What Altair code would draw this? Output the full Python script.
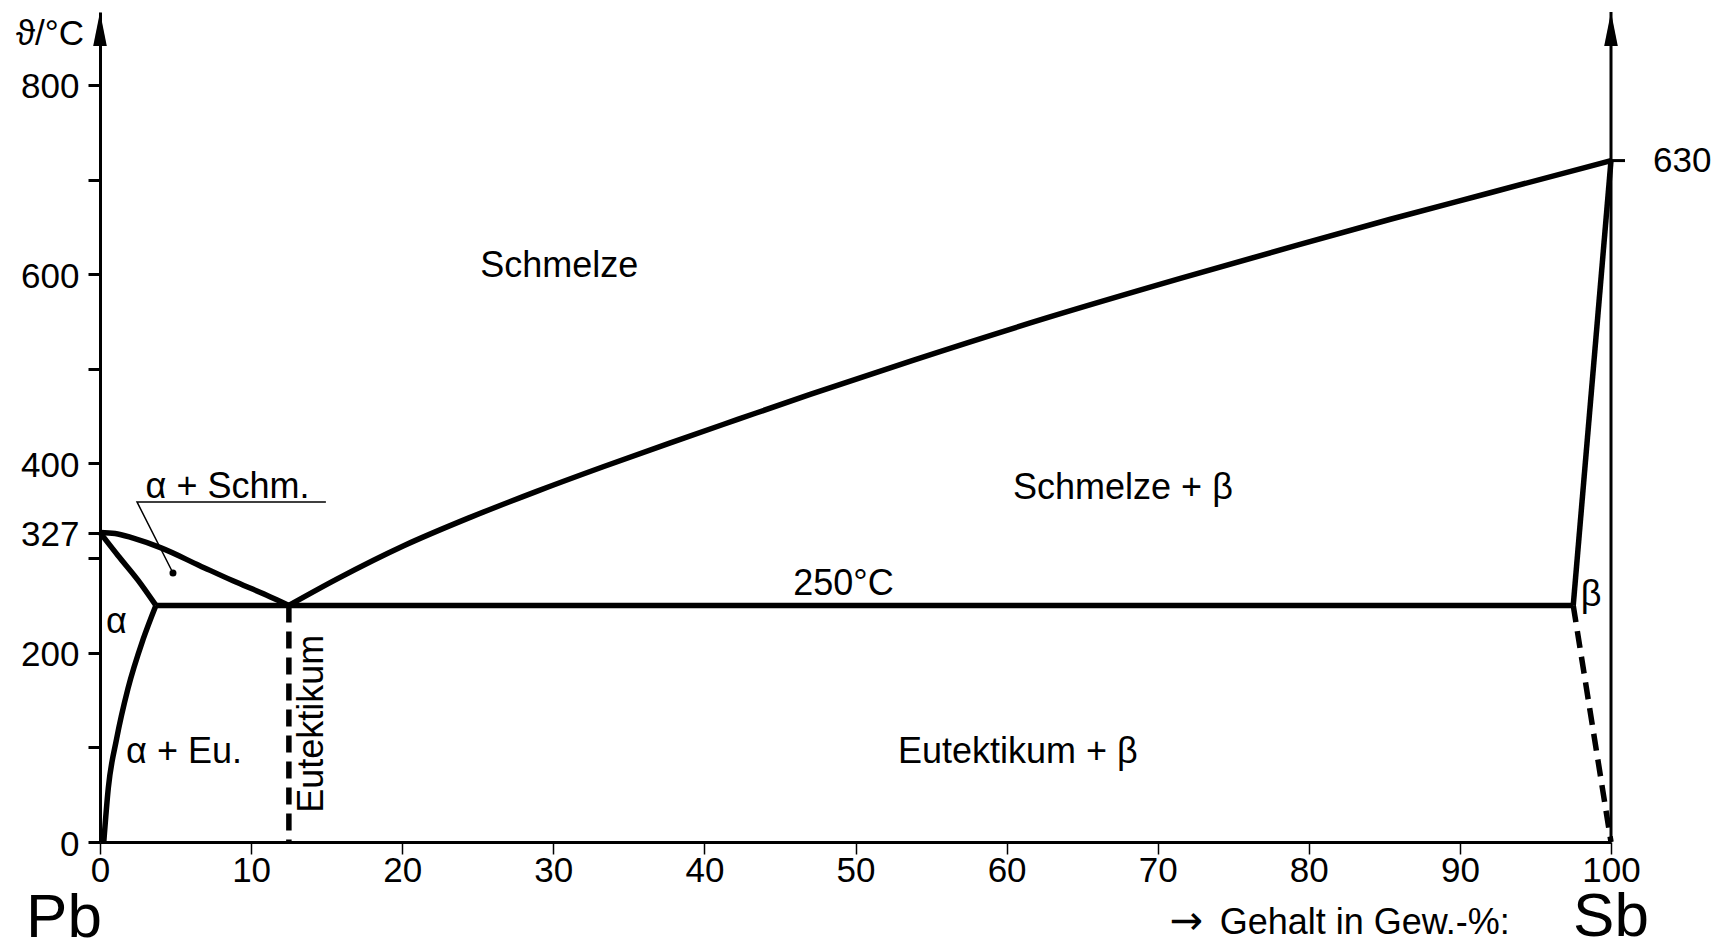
import altair as alt
import pandas as pd

FONT = "Liberation Sans, Arial, Helvetica, sans-serif"

# ---------------- axes ----------------
x_ticks = list(range(0, 101, 10))
y_ticks = [0, 100, 200, 300, 327, 400, 500, 600, 700, 800]
y_labeled = [0, 200, 327, 400, 600, 800]
y_top = 877  # top of the arrowed axes (drawn scale)

# ---------------- phase boundaries (x = % Sb, y = drawn temperature) ----------------
liq_pb_x = [0, 1.0, 2.2, 4.0, 6.6, 8.8, 11.0, 12.5]
liq_pb_y = [327, 326, 321, 311, 292, 276, 261, 250]
sol_pb_x = [0, 1.2, 2.5, 3.7]
sol_pb_y = [327, 302.5, 277, 250]
solv_pb_x = [0.25, 0.55, 1.1, 1.85, 2.85, 3.7]
solv_pb_y = [0, 57, 109, 162, 214, 250]
liq_sb_x = [12.5, 15.7, 20.1, 24.5, 28.9, 33.3, 37.7, 42.2, 47.0, 53.8, 62.7, 71.5, 79.3, 85.4, 92.0, 100]
liq_sb_y = [250, 278, 313, 343, 370.5, 396.5, 421.5, 446.5, 473, 509, 554, 595.5, 631, 658, 686, 720]
eut_line_x = [3.7, 97.5]
eut_T = 250
eut_comp = 12.5
sol_sb_x = [97.5, 100]
sol_sb_y = [250, 720]
solv_sb_x = [97.5, 100]
solv_sb_y = [250, 0]
sb_melt_drawn = 720
sb_melt_label = "630"

# ---------------- annotation positions (data units) ----------------
region_text = ["Schmelze", "Schmelze + β", "250°C", "α", "α + Eu.", "Eutektikum + β", "β", "α + Schm."]
region_x = [30.4, 67.7, 49.2, 1.09, 5.56, 60.75, 98.68, 8.44]
region_y = [597, 362, 261, 221, 83, 83, 249, 364]

eutk_text = ["Eutektikum"]
eutk_x = [14.76]
eutk_y = [125]

leader_x = [14.95, 2.45, 4.83]
leader_y = [359.3, 359.3, 284.2]

unit_text = ["ϑ/°C"]
unit_x = [-3.31]
unit_y = [842]

elem_text = ["Pb", "Sb"]
elem_x = [-2.38, 100]
elem_y = [-100, -99.5]

arrow_text = ["→"]
arrow_x = [71.9]
gehalt_text = ["Gehalt in Gew.-%:"]
gehalt_x = [74.1]
gehalt_y = [-97]

melt_label_x = [102.78]
melt_label_y = [708]

# ---------------- build tables ----------------
rows = []
for name, xs_, ys_ in [("liq_pb", liq_pb_x, liq_pb_y), ("sol_pb", sol_pb_x, sol_pb_y),
                       ("solv_pb", solv_pb_x, solv_pb_y), ("liq_sb", liq_sb_x, liq_sb_y),
                       ("eut", eut_line_x, [eut_T, eut_T]), ("sol_sb", sol_sb_x, sol_sb_y)]:
    for i, (a, b) in enumerate(zip(xs_, ys_)):
        rows.append({"x": a, "y": b, "curve": name, "o": i})
solid_df = pd.DataFrame(rows)

drows = []
for name, xs_, ys_ in [("eut_v", [eut_comp, eut_comp], [eut_T, 0]), ("solv_sb", solv_sb_x, solv_sb_y)]:
    for i, (a, b) in enumerate(zip(xs_, ys_)):
        drows.append({"x": a, "y": b, "curve": name, "o": i})
dash_df = pd.DataFrame(drows)

xs = alt.Scale(domain=[0, 100], nice=False, zero=False)
ys = alt.Scale(domain=[0, y_top], nice=False, zero=False)

x_axis = alt.Axis(values=x_ticks, tickSize=12, tickWidth=1.5, tickColor="black",
                  domainColor="black", domainWidth=3, labelFontSize=35, labelFont=FONT,
                  labelColor="black", labelPadding=-1, grid=False, title=None,
                  labelFlush=False, labelOverlap=False, format="d")
y_axis = alt.Axis(values=y_ticks, tickSize=12, tickWidth=3, tickColor="black",
                  domainColor="black", domainWidth=3, labelFontSize=35, labelFont=FONT,
                  labelColor="black", labelPadding=9, grid=False, title=None,
                  labelFlush=False, labelOverlap=False, format="d", labelOffset=2,
                  labelExpr="indexof(" + str(y_labeled) + ", datum.value) >= 0 ? datum.label : ''")

solid = alt.Chart(solid_df).mark_line(color="black", strokeWidth=5.5, interpolate="monotone",
                                      strokeJoin="round").encode(
    x=alt.X("x:Q", scale=xs, axis=x_axis),
    y=alt.Y("y:Q", scale=ys, axis=y_axis),
    detail="curve:N", order="o:Q")

dashed = alt.Chart(dash_df).mark_line(color="black", strokeWidth=5.5, strokeDash=[17, 9]).encode(
    x=alt.X("x:Q", scale=xs), y=alt.Y("y:Q", scale=ys), detail="curve:N", order="o:Q")

# right-hand axis (Sb) with tick for melting point
raxis_df = pd.DataFrame({"x": [100], "y0": [0], "y1": [y_top]})
raxis = alt.Chart(raxis_df).mark_rule(color="black", strokeWidth=3).encode(
    x=alt.X("x:Q", scale=xs), y=alt.Y("y0:Q", scale=ys), y2="y1:Q")
rtick_df = pd.DataFrame({"x": [100], "y": [sb_melt_drawn]})
rtick = alt.Chart(rtick_df).mark_rule(color="black", strokeWidth=3, x2Offset=14).encode(
    x=alt.X("x:Q", scale=xs), x2="x:Q", y=alt.Y("y:Q", scale=ys))
rlabel = alt.Chart(pd.DataFrame({"x": melt_label_x, "y": melt_label_y, "t": [sb_melt_label]})).mark_text(
    font=FONT, fontSize=35, align="left", baseline="alphabetic", color="black").encode(
    x=alt.X("x:Q", scale=xs), y=alt.Y("y:Q", scale=ys), text="t:N")

# arrow heads on top of both temperature axes
arrow_df = pd.DataFrame({"x": [0, 100], "y": [y_top, y_top]})
arrows = alt.Chart(arrow_df).mark_point(shape="M0,0L0.4,2L-0.4,2Z", size=1156, filled=True,
                                        color="black", opacity=1, strokeWidth=0).encode(
    x=alt.X("x:Q", scale=xs), y=alt.Y("y:Q", scale=ys))

# annotation leader for α + Schm.
lead_df = pd.DataFrame({"x": leader_x, "y": leader_y, "o": [0, 1, 2]})
leader = alt.Chart(lead_df).mark_line(color="black", strokeWidth=1.5).encode(
    x=alt.X("x:Q", scale=xs), y=alt.Y("y:Q", scale=ys), order="o:Q")
dot = alt.Chart(lead_df.iloc[[2]]).mark_point(filled=True, color="black", size=49, opacity=1).encode(
    x=alt.X("x:Q", scale=xs), y=alt.Y("y:Q", scale=ys))

def texts(xv, yv, tv, size, font=FONT, **kw):
    df = pd.DataFrame({"x": xv, "y": yv, "t": tv})
    return alt.Chart(df).mark_text(font=font, fontSize=size, color="black",
                                   baseline="alphabetic", **kw).encode(
        x=alt.X("x:Q", scale=xs), y=alt.Y("y:Q", scale=ys), text="t:N")

regions = texts(region_x, region_y, region_text, 36, align="center")
eutk = texts(eutk_x, eutk_y, eutk_text, 36, align="center", angle=270)
unit = texts(unit_x, unit_y, unit_text, 35, align="center")
elems = texts(elem_x, elem_y, elem_text, 62, align="center")
gehalt = texts(gehalt_x, gehalt_y, gehalt_text, 36, align="left")
garrow = texts(arrow_x, gehalt_y, arrow_text, 40, font="DejaVu Sans, sans-serif", align="center")

chart = alt.layer(
    raxis, rtick, solid, dashed, leader, dot, arrows, rlabel, regions, eutk, unit, elems,
    gehalt, garrow
).properties(
    width=1511, height=830,
    autosize=alt.AutoSizeParams(type="none"),
    padding={"left": 92, "top": 4, "right": 100, "bottom": 100},
    background="white",
).configure_view(stroke=None)

chart.save("out.html", embed_options={"renderer": "svg", "actions": False})
